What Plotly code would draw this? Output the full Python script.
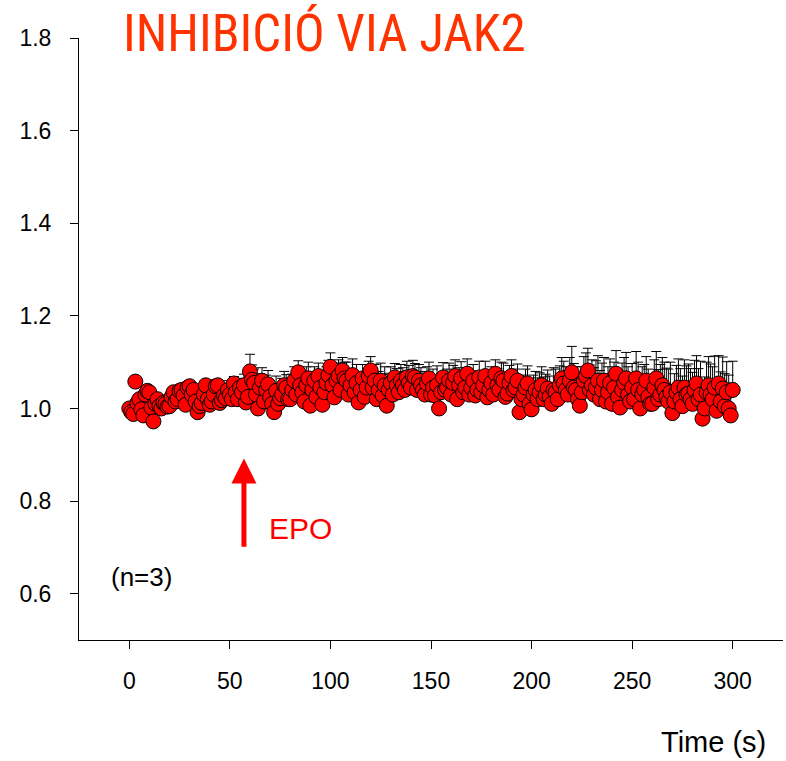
import plotly.graph_objects as go

# Time points (s), sampled every second
time_s = list(range(0, 301))

# Normalised response (mean), one row per 10 s
response = [
    1.000, 0.992, 0.988, 1.058, 1.012, 1.020, 0.998, 0.985, 1.030, 1.038,
    1.035, 1.002, 0.972, 1.010, 1.020, 1.005, 1.000, 1.012, 1.010, 1.004,
    1.005, 1.025, 1.035, 1.015, 1.020, 1.038, 1.040, 1.028, 1.008, 1.045,
    1.048, 1.030, 1.040, 1.015, 0.992, 1.005, 1.012, 1.030, 1.050, 1.020,
    1.008, 1.015, 1.030, 1.048, 1.050, 1.012, 1.018, 1.028, 1.022, 1.040,
    1.030, 1.020, 1.054, 1.035, 1.020, 1.045, 1.035, 1.050, 1.013, 1.025,
    1.080, 1.062, 1.055, 1.030, 1.000, 1.045, 1.060, 1.015, 1.040, 1.052,
    1.025, 1.010, 0.992, 1.038, 1.010, 1.022, 1.030, 1.050, 1.045, 1.020,
    1.020, 1.040, 1.060, 1.030, 1.078, 1.050, 1.035, 1.015, 1.050, 1.065,
    1.006, 1.040, 1.060, 1.025, 1.070, 1.045, 1.008, 1.035, 1.055, 1.072,
    1.090, 1.050, 1.024, 1.060, 1.070, 1.040, 1.082, 1.065, 1.060, 1.030,
    1.050, 1.072, 1.035, 1.055, 1.013, 1.040, 1.065, 1.025, 1.045, 1.070,
    1.082, 1.045, 1.060, 1.020, 1.040, 1.060, 1.028, 1.050, 1.006, 1.040,
    1.055, 1.030, 1.067, 1.050, 1.035, 1.060, 1.050, 1.040, 1.067, 1.055,
    1.045, 1.070, 1.067, 1.040, 1.060, 1.050, 1.040, 1.030, 1.054, 1.065,
    1.030, 1.045, 1.028, 1.050, 1.000, 1.035, 1.067, 1.040, 1.045, 1.060,
    1.030, 1.055, 1.070, 1.020, 1.050, 1.065, 1.035, 1.045, 1.075, 1.030,
    1.045, 1.060, 1.028, 1.040, 1.067, 1.035, 1.050, 1.070, 1.024, 1.040,
    1.055, 1.030, 1.075, 1.050, 1.040, 1.065, 1.060, 1.025, 1.032, 1.055,
    1.070, 1.040, 1.045, 1.060, 0.992, 1.020, 1.030, 1.045, 1.054, 1.010,
    0.998, 1.030, 1.040, 1.020, 1.035, 1.050, 1.020, 1.030, 1.043, 1.025,
    1.010, 1.040, 1.035, 1.020, 1.050, 1.065, 1.054, 1.040, 1.030, 1.060,
    1.078, 1.045, 1.040, 1.020, 1.006, 1.035, 1.060, 1.070, 1.082, 1.040,
    1.050, 1.030, 1.045, 1.060, 1.020, 1.040, 1.060, 1.015, 1.035, 1.055,
    1.010, 1.045, 1.075, 1.025, 1.002, 1.040, 1.055, 1.065, 1.030, 1.015,
    1.045, 1.020, 1.065, 1.040, 1.000, 1.030, 1.040, 1.060, 1.025, 1.010,
    1.010, 1.045, 1.065, 1.020, 1.030, 1.050, 1.040, 1.025, 1.015, 1.035,
    0.990, 1.015, 1.035, 1.045, 1.020, 1.005, 1.045, 1.030, 1.032, 1.020,
    1.010, 1.040, 1.054, 1.020, 1.030, 0.978, 1.000, 1.035, 1.050, 1.030,
    1.020, 1.045, 0.995, 1.054, 1.015, 1.043, 1.005, 1.035, 1.000, 0.985,
    1.040,
]

# Standard error (upper bars only), one row per 10 s
sem = [
    0.004, 0.005, 0.006, 0.007, 0.008, 0.006, 0.010, 0.008, 0.006, 0.008,
    0.008, 0.009, 0.010, 0.008, 0.008, 0.010, 0.007, 0.009, 0.009, 0.011,
    0.010, 0.012, 0.008, 0.010, 0.012, 0.011, 0.010, 0.013, 0.014, 0.012,
    0.012, 0.015, 0.010, 0.013, 0.015, 0.012, 0.012, 0.016, 0.010, 0.014,
    0.015, 0.016, 0.018, 0.014, 0.012, 0.018, 0.020, 0.016, 0.016, 0.020,
    0.022, 0.018, 0.015, 0.022, 0.025, 0.020, 0.020, 0.024, 0.028, 0.025,
    0.037, 0.032, 0.030, 0.028, 0.025, 0.030, 0.028, 0.032, 0.032, 0.030,
    0.030, 0.028, 0.027, 0.032, 0.030, 0.030, 0.035, 0.030, 0.028, 0.032,
    0.032, 0.034, 0.030, 0.028, 0.025, 0.032, 0.035, 0.038, 0.040, 0.035,
    0.033, 0.036, 0.030, 0.032, 0.028, 0.035, 0.038, 0.040, 0.035, 0.032,
    0.030, 0.040, 0.045, 0.038, 0.035, 0.040, 0.028, 0.035, 0.040, 0.042,
    0.036, 0.035, 0.042, 0.040, 0.038, 0.036, 0.030, 0.040, 0.035, 0.032,
    0.030, 0.036, 0.035, 0.040, 0.040, 0.038, 0.045, 0.040, 0.038, 0.036,
    0.035, 0.040, 0.030, 0.036, 0.042, 0.035, 0.038, 0.040, 0.035, 0.038,
    0.038, 0.034, 0.030, 0.036, 0.035, 0.038, 0.040, 0.042, 0.036, 0.035,
    0.042, 0.040, 0.038, 0.042, 0.045, 0.040, 0.032, 0.036, 0.040, 0.038,
    0.042, 0.038, 0.035, 0.042, 0.038, 0.036, 0.040, 0.038, 0.032, 0.040,
    0.036, 0.035, 0.045, 0.040, 0.035, 0.038, 0.030, 0.032, 0.040, 0.038,
    0.035, 0.040, 0.030, 0.036, 0.040, 0.035, 0.038, 0.042, 0.042, 0.038,
    0.035, 0.038, 0.040, 0.036, 0.050, 0.045, 0.042, 0.040, 0.038, 0.044,
    0.045, 0.042, 0.040, 0.046, 0.042, 0.040, 0.048, 0.044, 0.040, 0.045,
    0.045, 0.048, 0.050, 0.046, 0.042, 0.045, 0.048, 0.050, 0.052, 0.050,
    0.056, 0.052, 0.050, 0.055, 0.060, 0.055, 0.052, 0.050, 0.048, 0.054,
    0.055, 0.058, 0.058, 0.054, 0.062, 0.058, 0.050, 0.060, 0.055, 0.052,
    0.058, 0.055, 0.050, 0.058, 0.062, 0.058, 0.055, 0.056, 0.060, 0.062,
    0.052, 0.055, 0.058, 0.060, 0.065, 0.060, 0.055, 0.052, 0.060, 0.062,
    0.062, 0.060, 0.058, 0.064, 0.065, 0.060, 0.060, 0.062, 0.070, 0.065,
    0.062, 0.060, 0.058, 0.062, 0.066, 0.065, 0.060, 0.062, 0.064, 0.066,
    0.068, 0.064, 0.060, 0.066, 0.072, 0.070, 0.068, 0.065, 0.062, 0.066,
    0.070, 0.068, 0.066, 0.060, 0.064, 0.068, 0.070, 0.066, 0.072, 0.070,
    0.062,
]

x_ticks = [0, 50, 100, 150, 200, 250, 300]
y_ticks = [0.6, 0.8, 1.0, 1.2, 1.4, 1.6, 1.8]

title_text = "INHIBICIÓ VIA JAK2"
stim_label = "EPO"
stim_time = 57
n_label = "(n=3)"
x_title = "Time (s)"

BASE_FONT = "Liberation Sans, Arial, sans-serif"
NARROW_FONT = "Liberation Sans Narrow, Arial Narrow, Roboto Condensed, sans-serif"

fig = go.Figure()
fig.add_trace(go.Scatter(
    x=time_s, y=response, mode="markers",
    marker=dict(size=15, color="#ff0000", line=dict(color="#000000", width=1)),
    error_y=dict(type="data", array=sem, arrayminus=[0] * len(sem), symmetric=False,
                 color="#000000", thickness=1, width=5),
    cliponaxis=False,
))

fig.update_layout(
    width=786, height=761,
    margin=dict(l=79, r=3, t=38, b=121),
    paper_bgcolor="white", plot_bgcolor="white",
    showlegend=False,
    font=dict(family=BASE_FONT, size=23, color="#000000"),
    xaxis=dict(range=[-25, 325], tickvals=x_ticks, ticks="outside", ticklen=8,
               tickcolor="#000000", showline=True, linecolor="#000000", linewidth=1,
               showgrid=False, zeroline=False, ticklabelstandoff=12,
               tickfont=dict(size=23)),
    yaxis=dict(range=[0.5, 1.8], tickvals=y_ticks, ticktext=[f"{v:.1f}" for v in y_ticks],
               ticks="outside", ticklen=8, tickcolor="#000000", showline=True,
               linecolor="#000000", linewidth=1, showgrid=False, zeroline=False,
               ticklabelstandoff=14, tickfont=dict(size=23)),
)

fig.add_annotation(x=97, y=1.008, xref="x", yref="paper", text=title_text,
                   showarrow=False, font=dict(family=NARROW_FONT, size=51, color="#ff3300"),
                   xanchor="center", yanchor="middle")
fig.add_annotation(x=stim_time, y=0.892, ax=stim_time, ay=0.698, xref="x", yref="y",
                   axref="x", ayref="y", text="", showarrow=True, arrowhead=2,
                   arrowsize=1, arrowwidth=5, arrowcolor="#ff0000", standoff=0)
fig.add_annotation(x=85, y=0.741, xref="x", yref="y", text=stim_label, showarrow=False,
                   font=dict(size=30, color="#ff0000"), xanchor="center", yanchor="middle")
fig.add_annotation(x=6, y=0.637, xref="x", yref="y", text=n_label, showarrow=False,
                   font=dict(size=26, color="#000000"), xanchor="center", yanchor="middle")
fig.add_annotation(x=0.9006, y=-0.169, xref="paper", yref="paper", text=x_title,
                   showarrow=False, font=dict(size=29, color="#000000"),
                   xanchor="center", yanchor="middle")

fig.write_html("out.html")
